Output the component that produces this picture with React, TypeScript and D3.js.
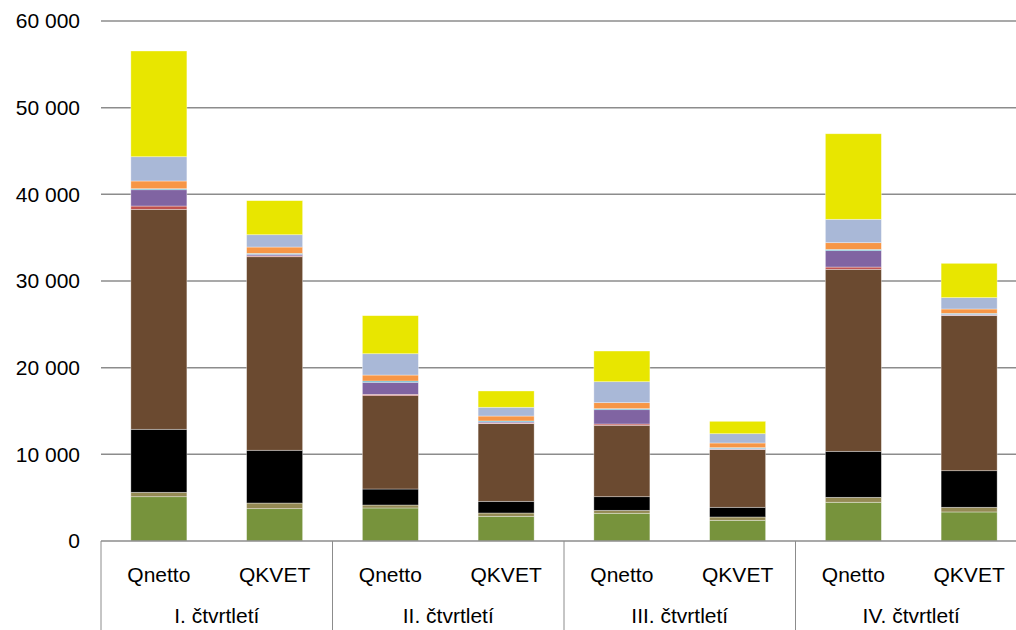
import React from "react";
import * as d3 from "d3";

const quarters = ["I. čtvrtletí", "II. čtvrtletí", "III. čtvrtletí", "IV. čtvrtletí"];
const kinds = ["Qnetto", "QKVET"];
const yTicks = [0, 10000, 20000, 30000, 40000, 50000, 60000];

// bar order: I Qnetto, I QKVET, II Qnetto, II QKVET, III Qnetto, III QKVET, IV Qnetto, IV QKVET
const seriesNames = ["Řada 1", "Řada 2", "Řada 3", "Řada 4", "Řada 5", "Řada 6", "Řada 7", "Řada 8", "Řada 9", "Řada 10"];
const green = [5110, 3730, 3810, 2850, 3200, 2390, 4470, 3350];
const olive = [510, 650, 340, 380, 340, 380, 570, 540];
const black = [7270, 6090, 1850, 1350, 1570, 1120, 5310, 4220];
const brown = [25380, 22330, 10770, 8960, 8240, 6650, 21000, 17890];
const red = [380, 100, 150, 70, 150, 50, 260, 60];
const purple = [1880, 180, 1390, 120, 1650, 80, 1890, 100];
const teal = [120, 110, 150, 120, 120, 100, 150, 110];
const orange = [890, 730, 690, 570, 690, 540, 770, 500];
const lightBlue = [2800, 1420, 2460, 1010, 2420, 1070, 2700, 1310];
const yellow = [12200, 3930, 4390, 1880, 3540, 1430, 9870, 3960];

const seriesValues = [green, olive, black, brown, red, purple, teal, orange, lightBlue, yellow];
const colors = ["#77933C", "#948A54", "#000000", "#6B4A30", "#C0504D", "#8064A2", "#4BACC6", "#F79646", "#A9B8D7", "#E8E600"];

const W = 1016;
const H = 630;
const left = 101;
const right = 1027;
const top = 21;
const zeroY = 541;

export default function App() {
  const y = d3.scaleLinear().domain([0, 60000]).range([zeroY, top]);
  const xq = d3.scaleBand<string>().domain(quarters).range([left, right]).padding(0);
  const xk = d3.scaleBand<string>().domain(kinds).range([0, xq.bandwidth()]).paddingInner(0.516).paddingOuter(0.258);

  const rows = quarters.flatMap((q, qi) =>
    kinds.map((k, ki) => {
      const idx = qi * 2 + ki;
      const row: any = { q, k };
      seriesNames.forEach((n, si) => (row[n] = seriesValues[si][idx]));
      return row;
    })
  );
  const stacked = d3.stack<any>().keys(seriesNames)(rows);
  const fmt = (v: number) => d3.format(",")(v).replace(/,/g, " ");
  const font = "'Liberation Sans', Arial, sans-serif";
  const fs = 21;

  return (
    <svg width={W} height={H} style={{ position: "absolute", left: 0, top: 0, background: "#fff" }}>
      {yTicks.filter((t) => t > 0).map((t) => (
        <line key={t} x1={left} x2={W} y1={y(t)} y2={y(t)} stroke="#8c8c8c" strokeWidth={1.5} />
      ))}
      {yTicks.map((t) => (
        <text key={"l" + t} x={80} y={y(t)} dy="0.35em" textAnchor="end" fontFamily={font} fontSize={fs} fill="#000">
          {fmt(t)}
        </text>
      ))}
      {stacked.map((s, si) => (
        <g key={s.key} fill={colors[si]}>
          {s.map((d, i) => (
            <rect
              key={i}
              x={(xq(d.data.q) as number) + (xk(d.data.k) as number)}
              width={xk.bandwidth()}
              y={y(d[1])}
              height={Math.max(0, y(d[0]) - y(d[1]))}
              stroke="rgba(255,255,255,0.5)"
              strokeWidth={0.7}
            />
          ))}
        </g>
      ))}
      <line x1={left} x2={W} y1={zeroY} y2={zeroY} stroke="#8c8c8c" strokeWidth={1.5} />
      {quarters.map((q) => (
        <line key={"s" + q} x1={xq(q)} x2={xq(q)} y1={zeroY} y2={H} stroke="#8c8c8c" strokeWidth={1} />
      ))}
      {quarters.map((q) => (
        <g key={"c" + q}>
          {kinds.map((k) => (
            <text
              key={k}
              x={(xq(q) as number) + (xk(k) as number) + xk.bandwidth() / 2}
              y={575}
              dy="0.35em"
              textAnchor="middle"
              fontFamily={font}
              fontSize={fs}
            >
              {k}
            </text>
          ))}
          <text x={(xq(q) as number) + xq.bandwidth() / 2} y={616} dy="0.35em" textAnchor="middle" fontFamily={font} fontSize={fs}>
            {q}
          </text>
        </g>
      ))}
    </svg>
  );
}
